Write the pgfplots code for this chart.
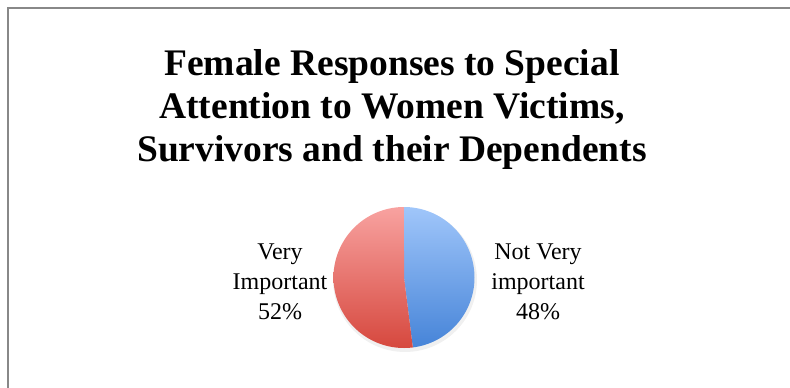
\documentclass[border=0pt]{standalone}
\usepackage{pgfplots}
\pgfplotsset{compat=1.18}
\usepackage{fontspec}
\setmainfont{Liberation Serif}
\definecolor{blueTop}{RGB}{160,198,250}
\definecolor{blueBot}{RGB}{70,132,216}
\definecolor{redTop}{RGB}{248,162,160}
\definecolor{redBot}{RGB}{214,72,62}
\definecolor{frame}{RGB}{136,136,136}
% data (percent)
\def\vNotVery{48}
\def\vVery{52}
\pgfmathsetmacro{\aSplit}{\vNotVery*3.6}
\begin{document}
\begin{tikzpicture}[x=1pt,y=1pt]
\begin{axis}[
  scale only axis, width=790pt, height=388pt,
  xmin=0, xmax=790, ymin=0, ymax=388, y dir=reverse,
  hide axis, clip=false,
]
% frame
\addplot[frame, line width=2pt] coordinates {(8,400) (8,8) (800,8)};
% shadow
\addplot[draw=none, fill=black, fill opacity=0.06, domain=0:360, samples=90, variable=\t]
  ({405+72*sin(t)}, {280-72*cos(t)}) -- cycle;
% slice: Not Very important (48%)
\addplot[draw=none, top color=blueTop, bottom color=blueBot, domain=0:\aSplit, samples=80, variable=\t]
  ({404+70.5*sin(t)}, {277.5-70.5*cos(t)}) -- (axis cs:404,277.5) -- cycle;
% slice: Very Important (52%)
\addplot[draw=none, top color=redTop, bottom color=redBot, domain=\aSplit:360, samples=80, variable=\t]
  ({404+70.5*sin(t)}, {277.5-70.5*cos(t)}) -- (axis cs:404,277.5) -- cycle;
% title
\node[font=\fontsize{37.5}{43}\selectfont\bfseries, align=center, anchor=center] at (axis cs:392,109)
  {Female Responses to Special\\Attention to Women Victims,\\Survivors and their Dependents};
% labels
\node[font=\fontsize{24}{30}\selectfont, align=center] at (axis cs:280,282) {Very\\Important\\52\%};
\node[font=\fontsize{24}{30}\selectfont, align=center] at (axis cs:538,282) {Not Very\\important\\48\%};
\coordinate (BL) at (axis cs:0,388);
\coordinate (TR) at (axis cs:790,0);
\end{axis}
\pgfresetboundingbox
\useasboundingbox (BL) rectangle (TR);
\end{tikzpicture}
\end{document}
